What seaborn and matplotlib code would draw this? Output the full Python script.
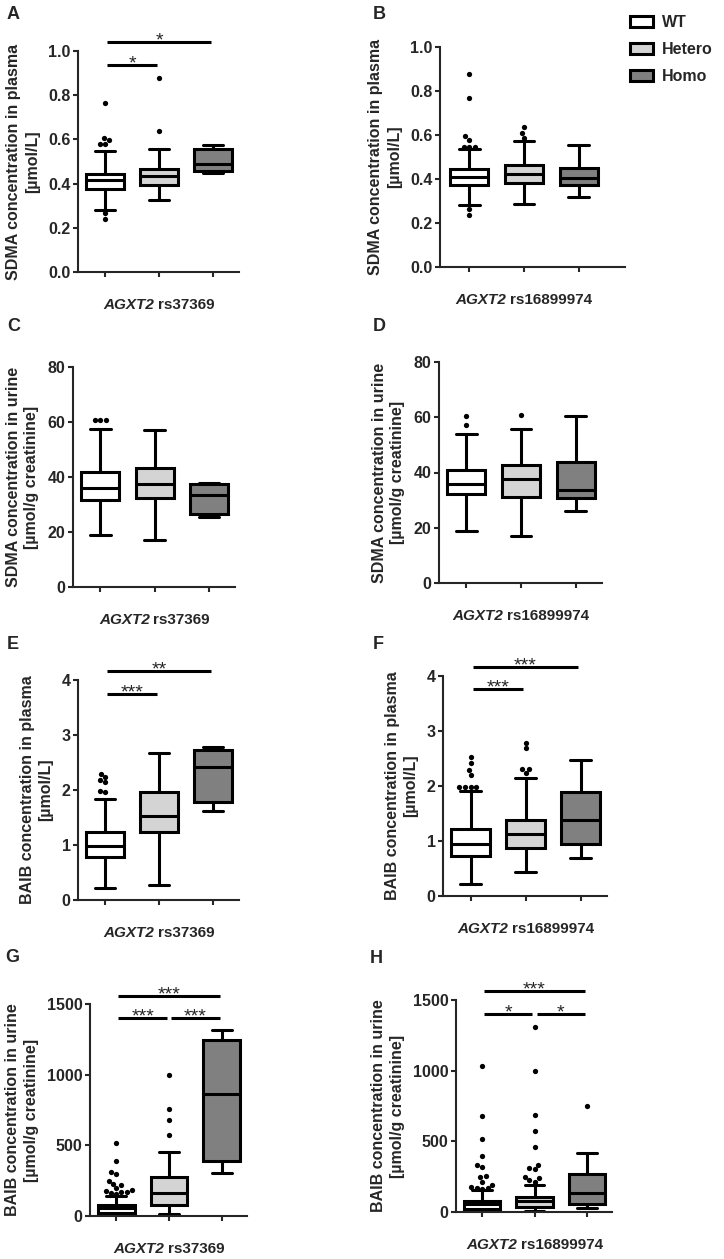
import warnings

import numpy as np
import pandas as pd
import matplotlib.pyplot as plt
from matplotlib.patches import Patch
from matplotlib.offsetbox import TextArea, HPacker, AnnotationBbox
import seaborn as sns

warnings.filterwarnings("ignore")

groups = ["WT", "Hetero", "Homo"]
group_colors = ["#ffffff", "#d4d4d4", "#808080"]

# box stats per group: [whisker low, q1, median, q3, whisker high]
a_stats = [[0.282, 0.374, 0.415, 0.445, 0.548],
           [0.327, 0.395, 0.434, 0.468, 0.555],
           [0.449, 0.457, 0.490, 0.558, 0.573]]
a_fliers = [[0.766, 0.608, 0.596, 0.581, 0.578, 0.267, 0.238], [0.878, 0.638], []]

b_stats = [[0.284, 0.371, 0.408, 0.447, 0.535],
           [0.288, 0.382, 0.424, 0.465, 0.573],
           [0.318, 0.371, 0.406, 0.452, 0.556]]
b_fliers = [[0.879, 0.768, 0.594, 0.579, 0.546, 0.546, 0.546, 0.265, 0.238],
            [0.638, 0.609, 0.586], []]

c_stats = [[18.8, 31.5, 36.0, 41.8, 57.6],
           [17.2, 32.5, 37.6, 43.4, 57.0],
           [25.5, 26.7, 33.3, 37.3, 37.8]]
c_fliers = [[60.6, 60.6, 60.6], [], []]

d_stats = [[19.0, 32.2, 36.0, 40.9, 53.8],
           [17.1, 31.0, 37.5, 42.7, 55.7],
           [25.9, 30.6, 33.7, 43.9, 60.5]]
d_fliers = [[60.3, 57.1], [60.7], []]

e_stats = [[0.21, 0.78, 0.99, 1.23, 1.84],
           [0.28, 1.23, 1.52, 1.96, 2.68],
           [1.62, 1.79, 2.41, 2.72, 2.79]]
e_fliers = [[2.30, 2.24, 2.19, 2.14, 1.98, 1.97], [], []]

f_stats = [[0.21, 0.73, 0.95, 1.21, 1.91],
           [0.43, 0.87, 1.13, 1.39, 2.14],
           [0.70, 0.95, 1.39, 1.89, 2.48]]
f_fliers = [[2.53, 2.41, 2.29, 2.20, 1.99, 1.99, 1.99, 1.99],
            [2.79, 2.69, 2.31, 2.31, 2.24], []]

g_stats = [[7, 24, 57, 78, 142],
           [14, 78, 161, 279, 456],
           [302, 392, 862, 1247, 1313]]
g_fliers = [[515, 392, 314, 298, 250, 227, 220, 196, 184, 178, 170, 170, 162, 155],
            [999, 756, 680, 572], []]

h_stats = [[2, 19, 54, 78, 156],
           [9, 33, 78, 108, 191],
           [26, 57, 132, 269, 415]]
h_fliers = [[1035, 682, 517, 399, 333, 316, 257, 250, 215, 191, 176, 168, 168, 160],
            [1311, 1000, 686, 573, 458, 333, 309, 302, 250, 238, 226, 215],
            [752]]

# significance: (group i, group j, level, stars)
a_sig = [(0, 1, 0.938, "*"), (0, 2, 1.04, "*")]
e_sig = [(0, 1, 3.74, "***"), (0, 2, 4.17, "**")]
f_sig = [(0, 1, 3.76, "***"), (0, 2, 4.17, "***")]
g_sig = [(0, 1, 1401, "***"), (1, 2, 1401, "***"), (0, 2, 1559, "***")]
h_sig = [(0, 1, 1399, "*"), (1, 2, 1399, "*"), (0, 2, 1564, "***")]

sns.set_style("ticks")
plt.rcParams["font.family"] = ["Liberation Sans", "DejaVu Sans"]
plt.rcParams["font.weight"] = "bold"
plt.rcParams["axes.labelweight"] = "bold"

W, H = 724, 1259
LW = 2.2

fig = plt.figure(figsize=(W / 100, H / 100), dpi=100)


def add_axes_px(left, top, right, bottom):
    return fig.add_axes([left / W, 1 - bottom / H, (right - left) / W, (bottom - top) / H])


def draw_panel(ax, stats, fliers, yticks, fmt, ylabel, snp, sigs=(), xlim=(-0.5, 2.48)):
    bstats = [dict(whislo=s[0], q1=s[1], med=s[2], q3=s[3], whishi=s[4], fliers=[])
              for s in stats]
    art = ax.bxp(bstats, positions=[0, 1, 2], widths=0.7, patch_artist=True,
                 showfliers=False, capwidths=0.38,
                 boxprops=dict(linewidth=LW, edgecolor="black"),
                 medianprops=dict(linewidth=LW, color="black"),
                 whiskerprops=dict(linewidth=LW, color="black"),
                 capprops=dict(linewidth=LW, color="black"))
    for patch, c in zip(art["boxes"], group_colors):
        patch.set_facecolor(c)

    df = pd.DataFrame({
        "group": [g for g, vals in zip(groups, fliers) for _ in vals],
        "value": [v for vals in fliers for v in vals],
    })
    if len(df):
        sns.swarmplot(data=df, x="group", y="value", order=groups, ax=ax,
                      color="black", size=3.8, linewidth=0, zorder=3)

    ax.set_xlim(*xlim)
    ax.set_ylim(yticks[0], yticks[-1])
    ax.set_xticks([0, 1, 2], ["", "", ""])
    ax.set_yticks(yticks, [fmt.format(t) for t in yticks])
    ax.set_xlabel("")
    ax.set_ylabel(ylabel, fontsize=11.5, linespacing=1.3, labelpad=6)
    ax.tick_params(direction="out", length=3.8, width=1.5, labelsize=11.5, pad=1.5)
    for sp in ["left", "bottom"]:
        ax.spines[sp].set_linewidth(1.5)
    sns.despine(ax=ax)

    # x label with italic gene name
    box = HPacker(children=[
        TextArea("AGXT2", textprops=dict(style="italic", weight="bold", size=11)),
        TextArea("rs" + snp, textprops=dict(weight="bold", size=11)),
    ], align="baseline", pad=0, sep=2.5)
    ab = AnnotationBbox(box, (1, 0), xycoords=("data", "axes fraction"),
                        xybox=(0, -24), boxcoords="offset points",
                        frameon=False, box_alignment=(0.5, 0.5),
                        annotation_clip=False)
    ax.add_artist(ab)

    for i, j, level, stars in sigs:
        ax.plot([i + 0.04, j - 0.04], [level, level], color="black",
                lw=LW, clip_on=False, solid_capstyle="butt")
        ax.annotate(stars, ((i + j) / 2, level), xytext=(0, -2.5),
                    textcoords="offset points", ha="center", va="baseline",
                    fontsize=14, fontweight="normal", annotation_clip=False)


sdma_plasma = "SDMA concentration in plasma\n[µmol/L]"
sdma_urine = "SDMA concentration in urine\n[µmol/g creatinine]"
baib_plasma = "BAIB concentration in plasma\n[µmol/L]"
baib_urine = "BAIB concentration in urine\n[µmol/g creatinine]"

t_a = [0, 0.2, 0.4, 0.6, 0.8, 1.0]
t_c = [0, 20, 40, 60, 80]
t_e = [0, 1, 2, 3, 4]
t_g = [0, 500, 1000, 1500]

ax = add_axes_px(78, 51, 239, 272)
draw_panel(ax, a_stats, a_fliers, t_a, "{:.1f}", sdma_plasma, "37369", a_sig)
ax = add_axes_px(440, 47, 625, 267)
draw_panel(ax, b_stats, b_fliers, t_a, "{:.1f}", sdma_plasma, "16899974", xlim=(-0.53, 2.84))
ax = add_axes_px(73, 367, 235, 587)
draw_panel(ax, c_stats, c_fliers, t_c, "{:d}", sdma_urine, "37369")
ax = add_axes_px(439, 362, 602, 583)
draw_panel(ax, d_stats, d_fliers, t_c, "{:d}", sdma_urine, "16899974")
ax = add_axes_px(78, 680, 239, 900)
draw_panel(ax, e_stats, e_fliers, t_e, "{:d}", baib_plasma, "37369", e_sig)
ax = add_axes_px(443, 676, 607, 896)
draw_panel(ax, f_stats, f_fliers, t_e, "{:d}", baib_plasma, "16899974", f_sig)
ax = add_axes_px(90, 1004, 247, 1216)
draw_panel(ax, g_stats, g_fliers, t_g, "{:d}", baib_urine, "37369", g_sig)
ax = add_axes_px(456, 1000, 612, 1212)
draw_panel(ax, h_stats, h_fliers, t_g, "{:d}", baib_urine, "16899974", h_sig)

# panel letters
for letter, (x, y) in zip("ABCDEFGH", [(7, 6), (373, 6), (7, 318), (373, 318),
                                       (7, 636), (373, 636), (5, 949), (370, 950)]):
    fig.text(x / W, 1 - y / H, letter, fontsize=13, fontweight="bold",
             ha="left", va="top")

handles = [Patch(facecolor=c, edgecolor="black", linewidth=LW) for c in group_colors]
fig.legend(handles, groups, loc="upper left", bbox_to_anchor=(630 / W, 1 - 15 / H),
           frameon=False, fontsize=11.5, handlelength=1.45, handleheight=0.65,
           handletextpad=0.55, labelspacing=0.75, borderpad=0, borderaxespad=0)

fig.savefig("out.png", dpi=100)
